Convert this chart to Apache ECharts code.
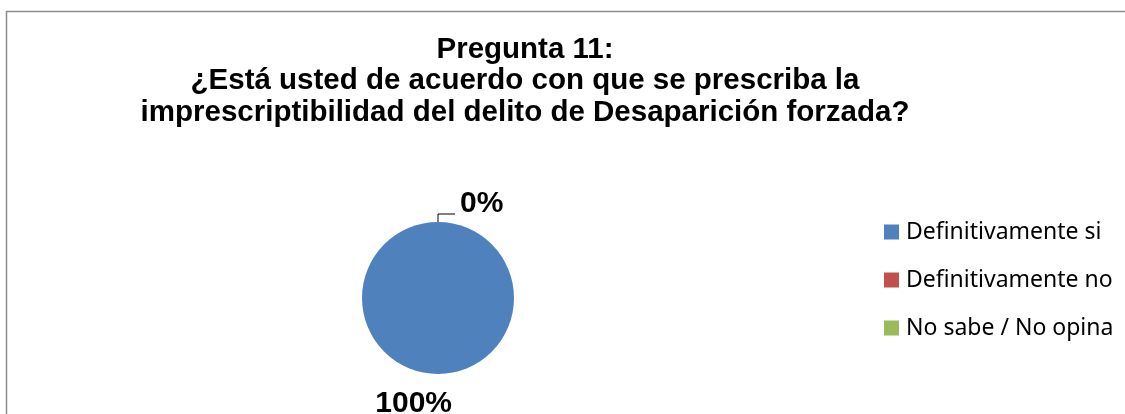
<!DOCTYPE html>
<html>
<head>
<meta charset="utf-8">
<script src="https://cdn.jsdelivr.net/npm/echarts@6/dist/echarts.min.js"></script>
<style>
  html, body { margin: 0; padding: 0; background: #fff; }
  #chart { width: 1125px; height: 414px; }
</style>
</head>
<body>
<div id="chart"></div>
<script>
// categorías y valores de la pregunta 11
const categories = ['Definitivamente si', 'Definitivamente no', 'No sabe / No opina']
const values = [100, 0, 0]
const colors = ['#4F81BD', '#C0504D', '#9BBB59']
const titleText = 'Pregunta 11:\n¿Está usted de acuerdo con que se prescriba la\nimprescriptibilidad del delito de Desaparición forzada?'

const chart = echarts.init(document.getElementById('chart'))

const option = {
  animation: false,
  title: {
    text: titleText,
    left: 520,
    top: 29,
    textAlign: 'center',
    textStyle: {
      fontFamily: 'Liberation Sans, Arial',
      fontWeight: 'bold',
      fontSize: 29.5,
      lineHeight: 31.5,
      color: '#000'
    }
  },
  legend: {
    orient: 'vertical',
    left: 884,
    top: 220,
    padding: 0,
    itemWidth: 15,
    itemHeight: 15,
    itemGap: 24,
    icon: 'rect',
    textStyle: {
      fontFamily: 'Noto Sans',
      fontSize: 23,
      lineHeight: 24,
      padding: [0, 0, 0, 2],
      color: '#000'
    },
    data: categories
  },
  graphic: [
    {
      type: 'rect',
      shape: { x: 6.5, y: 11.5, width: 1200, height: 500 },
      style: { fill: 'none', stroke: '#8c8c8c', lineWidth: 1.5 },
      silent: true
    }
  ],
  series: [
    {
      type: 'pie',
      center: [438, 298],
      radius: 76,
      startAngle: 90,
      avoidLabelOverlap: false,
      label: {
        show: true,
        formatter: p => Math.round(p.percent) + '%',
        fontFamily: 'Liberation Sans, Arial',
        fontWeight: 'bold',
        fontSize: 30,
        color: '#000'
      },
      labelLine: {
        show: true,
        length: 8,
        length2: 17,
        lineStyle: { color: '#000', width: 1 }
      },
      // etiqueta del 100% debajo del círculo, la de 0% sobre la línea guía
      labelLayout: p => {
        if (p.dataIndex === 0) return { dx: 19 }
        if (p.dataIndex === 1) return { verticalAlign: 'bottom' }
        return {}
      },
      data: categories.map((name, i) => ({
        name,
        value: values[i],
        itemStyle: { color: colors[i] },
        label: i === 2 ? { show: false } : (i === 1 ? { lineHeight: 20 } : undefined),
        labelLine: i === 0
          ? { show: false, length: 30, length2: 0 }
          : (i === 2 ? { show: false } : undefined)
      }))
    }
  ]
}

chart.setOption(option)
</script>
</body>
</html>
